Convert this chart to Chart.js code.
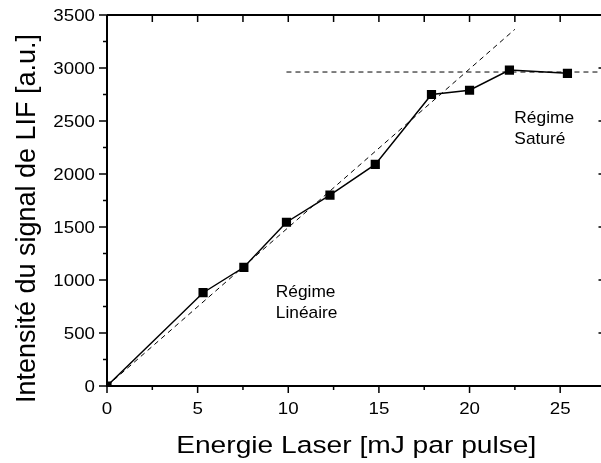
<!DOCTYPE html>
<html>
<head>
<meta charset="utf-8">
<script src="https://cdn.jsdelivr.net/npm/chart.js@4/dist/chart.umd.min.js"></script>
<style>
  html, body { margin: 0; padding: 0; background: #fff; overflow: hidden; }
  #wrap { width: 612px; height: 463px; }
</style>
</head>
<body>
<div id="wrap"><canvas id="chart" width="612" height="463"></canvas></div>
<script>
// ── Data ──────────────────────────────────────────────────────────────────
const energy = [0, 5.3, 7.55, 9.9, 12.3, 14.8, 17.9, 20.0, 22.2, 25.4];
const signal = [0, 880, 1120, 1545, 1800, 2090, 2750, 2790, 2980, 2950];

const linearFitX = [0, 22.5];
const linearFitY = [0, 3365];
const saturationX = [9.9, 27.5];
const saturationY = [2962, 2962];

const xTicks = [0, 5, 10, 15, 20, 25];
const xMinorTicks = [2.5, 7.5, 12.5, 17.5, 22.5, 27.5];
const yTicks = [0, 500, 1000, 1500, 2000, 2500, 3000, 3500];
const yMinorTicks = [250, 750, 1250, 1750, 2250, 2750, 3250];

const notes = [
    { x: 9.31, y: 840, lines: ['Régime', 'Linéaire'] },
    { x: 22.47, y: 2484, lines: ['Régime', 'Saturé'] }
];

const X_TITLE = 'Energie Laser [mJ par pulse]';
const Y_TITLE = 'Intensité du signal de LIF [a.u.]';
const FONT = '"Liberation Sans", Arial, sans-serif';

const toPts = (xs, ys) => xs.map((x, i) => ({ x, y: ys[i] }));

// text with a horizontal stretch, the reference glyphs are a bit wide
function stretchText(ctx, text, x, y, align, k) {
    const w = ctx.measureText(text).width * k;
    const left = align === 'right' ? x - w : align === 'center' ? x - w / 2 : x;
    ctx.save();
    ctx.translate(left, y);
    ctx.scale(k, 1);
    ctx.textAlign = 'left';
    ctx.fillText(text, 0, 0);
    ctx.restore();
}

// Frame, tick marks, labels, titles and notes
const framePlugin = {
    id: 'frame',
    afterDatasetsDraw(chart) {
        const { ctx, chartArea: a, scales: { x, y } } = chart;
        ctx.save();
        ctx.strokeStyle = '#000';
        ctx.lineWidth = 2;
        ctx.beginPath();
        ctx.moveTo(a.left, a.top);
        ctx.lineTo(a.left, a.bottom);
        ctx.lineTo(a.right, a.bottom);
        ctx.moveTo(a.left, a.top);
        ctx.lineTo(a.right, a.top);
        ctx.stroke();

        ctx.lineWidth = 1.5;
        ctx.beginPath();
        xTicks.forEach(v => {
            const px = x.getPixelForValue(v);
            ctx.moveTo(px, a.bottom); ctx.lineTo(px, a.bottom + 7);
            ctx.moveTo(px, a.top); ctx.lineTo(px, a.top + 7);
        });
        xMinorTicks.forEach(v => {
            const px = x.getPixelForValue(v);
            ctx.moveTo(px, a.bottom); ctx.lineTo(px, a.bottom + 4);
            ctx.moveTo(px, a.top); ctx.lineTo(px, a.top + 7);
        });
        yTicks.forEach(v => {
            const py = y.getPixelForValue(v);
            ctx.moveTo(a.left - 8, py); ctx.lineTo(a.left, py);
            ctx.moveTo(a.right - 7, py); ctx.lineTo(a.right, py);
        });
        yMinorTicks.forEach(v => {
            const py = y.getPixelForValue(v);
            ctx.moveTo(a.left - 4, py); ctx.lineTo(a.left, py);
        });
        ctx.stroke();

        ctx.fillStyle = '#000';
        ctx.textBaseline = 'alphabetic';

        // tick labels
        ctx.font = '16px ' + FONT;
        xTicks.forEach(v => stretchText(ctx, String(v), x.getPixelForValue(v), a.bottom + 28, 'center', 1.17));
        yTicks.forEach(v => stretchText(ctx, String(v), a.left - 12, y.getPixelForValue(v) + 6, 'right', 1.17));

        // notes
        ctx.font = '17px ' + FONT;
        notes.forEach(n => {
            const px = x.getPixelForValue(n.x);
            const py = y.getPixelForValue(n.y);
            n.lines.forEach((t, i) => stretchText(ctx, t, px, py + i * 21.5, 'left', 1.02));
        });

        // axis titles
        ctx.font = '24.5px ' + FONT;
        stretchText(ctx, X_TITLE, (a.left + a.right) / 2, 453, 'center', 1.15);
        ctx.font = '27px ' + FONT;
        ctx.translate(34.5, 218.5);
        ctx.rotate(-Math.PI / 2);
        ctx.textAlign = 'center';
        ctx.fillText(Y_TITLE, 0, 0);
        ctx.restore();
    }
};

new Chart(document.getElementById('chart'), {
    type: 'scatter',
    data: {
        datasets: [
            {
                data: toPts(linearFitX, linearFitY),
                showLine: true,
                borderColor: '#000',
                borderWidth: 1,
                borderDash: [5, 4],
                pointRadius: 0
            },
            {
                data: toPts(saturationX, saturationY),
                showLine: true,
                borderColor: '#000',
                borderWidth: 1,
                borderDash: [5, 4],
                pointRadius: 0
            },
            {
                data: toPts(energy, signal),
                showLine: true,
                borderColor: '#000',
                borderWidth: 1.5,
                pointStyle: 'rect',
                pointRadius: 6.5,
                pointBackgroundColor: '#000',
                pointBorderColor: '#000',
                pointBorderWidth: 0,
                clip: 0
            }
        ]
    },
    options: {
        responsive: false,
        animation: false,
        layout: { padding: { left: 0, top: 15, right: 6, bottom: 0 } },
        plugins: { legend: { display: false }, tooltip: { enabled: false } },
        scales: {
            x: {
                type: 'linear',
                min: 0,
                max: 27.5,
                grid: { display: false, drawTicks: false },
                border: { display: false },
                ticks: { display: false },
                afterFit: s => { s.height = 77; }
            },
            y: {
                min: 0,
                max: 3500,
                grid: { display: false, drawTicks: false },
                border: { display: false },
                ticks: { display: false },
                afterFit: s => { s.width = 107; }
            }
        }
    },
    plugins: [framePlugin]
});
</script>
</body>
</html>
